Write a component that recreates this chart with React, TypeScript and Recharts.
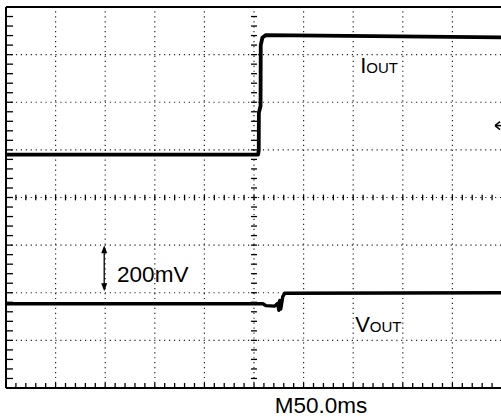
import React from 'react';
import { LineChart, Line, XAxis, YAxis, ReferenceLine, ReferenceDot } from 'recharts';

// time in ms (50 ms / div), level in divisions from screen centre
const iOut = [
  { t: -250, v: 0.9 },
  { t: 4.2, v: 0.9 },
  { t: 4.8, v: 1.0 },
  { t: 4.9, v: 1.78 },
  { t: 6.6, v: 1.92 },
  { t: 6.8, v: 3.2 },
  { t: 8.5, v: 3.36 },
  { t: 12, v: 3.41 },
  { t: 120, v: 3.39 },
  { t: 250, v: 3.36 },
];

const vOut = [
  { t: -250, v: -2.23 },
  { t: 9, v: -2.23 },
  { t: 12, v: -2.27 },
  { t: 21, v: -2.28 },
  { t: 24, v: -2.22 },
  { t: 25, v: -2.37 },
  { t: 26, v: -2.16 },
  { t: 27, v: -2.34 },
  { t: 29, v: -2.08 },
  { t: 31, v: -2.01 },
  { t: 250, v: -2.0 },
];

const gridX = [-200, -150, -100, -50, 50, 100, 150, 200];
const gridY = [-3, -2, -1, 1, 2, 3];
const minorX = Array.from({ length: 51 }, (_, i) => -250 + i * 10);
const minorY = Array.from({ length: 41 }, (_, i) => Math.round((-4 + i * 0.2) * 10) / 10);

const FONT = '"Liberation Sans", Arial, sans-serif';
const DOT = { stroke: '#222', strokeWidth: 1.2, strokeDasharray: '1.2 3.74' };
const TICK = { stroke: '#000', strokeWidth: 1.3 };
const BORDER = { stroke: '#000', strokeWidth: 2 };

const AxisArgs = { type: 'number' as const, tickFormatter: () => '', mirror: true };

const App = () => (
  <div style={{ position: 'absolute', left: 0, top: 0, background: '#fff' }}>
    <LineChart width={501} height={417} margin={{ top: 7, left: 6, right: -1, bottom: 29 }}>
      <XAxis {...AxisArgs} dataKey="t" domain={[-250, 250]} ticks={minorX} tickSize={5}
        height={1} axisLine={BORDER} tickLine={TICK} />
      <XAxis {...AxisArgs} xAxisId="top" orientation="top" dataKey="t" domain={[-250, 250]} ticks={minorX}
        tickSize={5} height={1} axisLine={BORDER} tickLine={TICK} />
      <YAxis {...AxisArgs} domain={[-4, 4]} ticks={minorY} tickSize={7} width={1}
        axisLine={BORDER} tickLine={TICK} />
      <YAxis {...AxisArgs} yAxisId="right" orientation="right" domain={[-4, 4]} ticks={minorY} tickSize={6}
        width={1} axisLine={BORDER} tickLine={TICK} />

      {gridX.map((x) => <ReferenceLine key={'gx' + x} x={x} {...DOT} />)}
      {gridY.map((y) => <ReferenceLine key={'gy' + y} y={y} {...DOT} />)}
      <ReferenceLine x={0} {...DOT} />
      <ReferenceLine y={0} {...DOT} />
      {minorX.slice(1, -1).map((x) => (
        <ReferenceLine key={'cx' + x} segment={[{ x, y: -0.06 }, { x, y: 0.06 }]} {...TICK} />
      ))}
      {minorY.slice(1, -1).map((y) => (
        <ReferenceLine key={'cy' + y} segment={[{ x: -3, y }, { x: 3, y }]} {...TICK} />
      ))}

      {/* 200mV scale marker */}
      <ReferenceLine
        segment={[{ x: -151, y: -1.0 }, { x: -151, y: -1.97 }]}
        shape={(p: any) => (
          <g>
            <line x1={p.x1} y1={p.y1 + 4} x2={p.x2} y2={p.y2 - 4} stroke="#000" strokeWidth={1.3} />
            <path d={`M${p.x1},${p.y1} l-3,8 l6,0 z`} fill="#000" />
            <path d={`M${p.x2},${p.y2} l-3,-8 l6,0 z`} fill="#000" />
          </g>
        )}
      />
      {/* channel ground marker at right edge */}
      <ReferenceDot
        x={243}
        y={1.51}
        r={0}
        ifOverflow="visible"
        shape={(p: any) => (
          <g>
            <line x1={p.cx} y1={p.cy} x2={p.cx + 10} y2={p.cy} stroke="#000" strokeWidth={1.5} />
            <path d={`M${p.cx},${p.cy} l5,-4 M${p.cx},${p.cy} l5,4`} stroke="#000" strokeWidth={1.5} fill="none" />
          </g>
        )}
      />

      <Line data={iOut} dataKey="v" type="linear" stroke="#000" strokeWidth={3.8} dot={false}
        strokeLinejoin="round" isAnimationActive={false} />
      <Line data={vOut} dataKey="v" type="linear" stroke="#000" strokeWidth={3.4} dot={false}
        strokeLinejoin="round" isAnimationActive={false} />

      <ReferenceDot x={107} y={2.61} r={0} ifOverflow="visible"
        label={{
          content: (p: any) => (
            <text x={p.viewBox.x} y={p.viewBox.y} fontFamily={FONT} fill="#000">
              <tspan fontSize={22}>I</tspan>
              <tspan fontSize={15}>OUT</tspan>
            </text>
          ),
        }}
      />
      <ReferenceDot x={102} y={-2.82} r={0} ifOverflow="visible"
        label={{
          content: (p: any) => (
            <text x={p.viewBox.x} y={p.viewBox.y} fontFamily={FONT} fill="#000">
              <tspan fontSize={22}>V</tspan>
              <tspan fontSize={15}>OUT</tspan>
            </text>
          ),
        }}
      />
      <ReferenceDot x={-138} y={-1.77} r={0} ifOverflow="visible"
        label={{
          content: (p: any) => (
            <text x={p.viewBox.x} y={p.viewBox.y} fontFamily={FONT} fontSize={22.5} fill="#000">200mV</text>
          ),
        }}
      />
      <ReferenceDot x={21} y={-4.52} r={0} ifOverflow="visible"
        label={{
          content: (p: any) => (
            <text x={p.viewBox.x} y={p.viewBox.y} fontFamily={FONT} fontSize={22.5} fill="#000">M50.0ms</text>
          ),
        }}
      />
    </LineChart>
  </div>
);

export default App;
